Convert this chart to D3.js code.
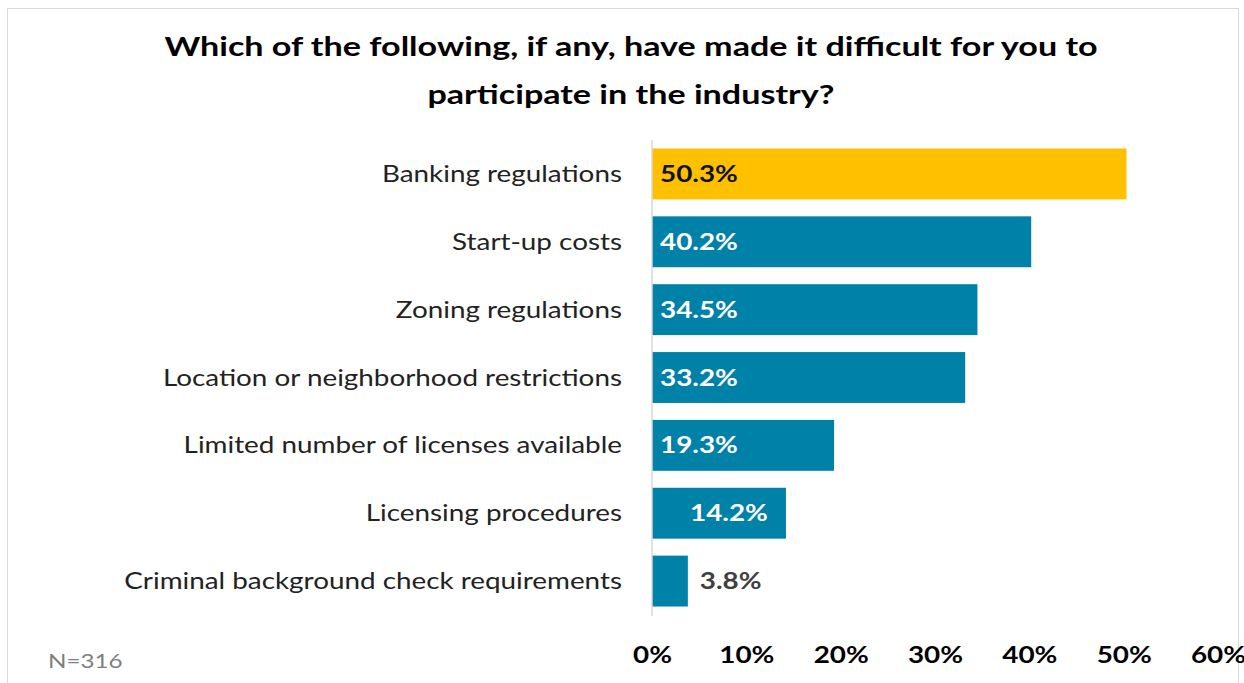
<!DOCTYPE html>
<html><head><meta charset="utf-8">
<script src="https://cdn.jsdelivr.net/npm/d3@7"></script>
<style>body{margin:0;background:#fff;} svg{display:block;}</style>
</head><body>
<svg id="c" width="1244" height="683"></svg>
<script>
const categories = ["Banking regulations","Start-up costs","Zoning regulations","Location or neighborhood restrictions","Limited number of licenses available","Licensing procedures","Criminal background check requirements"];
const values = [50.3, 40.2, 34.5, 33.2, 19.3, 14.2, 3.8];
const tickValues = [0, 10, 20, 30, 40, 50, 60];
const titleLines = ["Which of the following, if any, have made it difficult for you to", "participate in the industry?"];
const note = "N=316";

const FONT = "Lato, 'Open Sans', sans-serif";
const STRETCH = 1.21;
const TITLE_STRETCH = 1.24;
const svg = d3.select("#c");
svg.append("rect").attr("x",7.5).attr("y",8.5).attr("width",1231).attr("height",700)
  .attr("fill","#fff").attr("stroke","#d9d9d9");

const x = d3.scaleLinear().domain([0,60]).range([652,1218]);
const y = d3.scaleBand().domain(categories).range([140,615]).paddingInner(0.25).paddingOuter(0.125);

svg.selectAll("text.title").data(titleLines).join("text").attr("class","title")
  .attr("x",631).attr("y",(d,i)=>56+i*48).attr("text-anchor","middle")
  .attr("font-family",FONT).attr("font-weight",700).attr("font-size",27.5).attr("fill","#000").text(d=>d);

svg.selectAll("rect.bar").data(values).join("rect")
  .attr("x",x(0)).attr("y",(d,i)=>y(categories[i])).attr("width",d=>x(d)-x(0)).attr("height",y.bandwidth())
  .attr("fill",(d,i)=>i===0?"#FFC000":"#0081A7");

svg.append("line").attr("x1",652).attr("x2",652).attr("y1",140).attr("y2",616).attr("stroke","#d9d9d9").attr("stroke-width",1.5);

svg.selectAll("text.cat").data(categories).join("text").attr("class","t")
  .attr("x",622).attr("y",d=>y(d)+y.bandwidth()/2+8).attr("text-anchor","end")
  .attr("font-family",FONT).attr("font-size",23).attr("fill","#222").text(d=>d);

svg.selectAll("text.val").data(values).join("text").attr("class","t")
  .attr("x",(d,i)=> d<10 ? x(d)+12 : (i===5 ? x(0)+38 : x(0)+8))
  .attr("y",(d,i)=>y(categories[i])+y.bandwidth()/2+8)
  .attr("font-family",FONT).attr("font-weight",700).attr("font-size",23)
  .attr("fill",(d,i)=> i===0 ? "#111" : (d<10 ? "#404040" : "#fff"))
  .text(d=>d.toFixed(1)+"%");

const axis = d3.axisBottom(x).tickValues(tickValues).tickFormat(d=>d+"%").tickSize(0).tickPadding(0);
const ag = svg.append("g").attr("transform","translate(0,647)").call(axis);
ag.select(".domain").remove();
ag.selectAll("text").attr("class","t").attr("font-family",FONT).attr("font-weight",700).attr("font-size",23).attr("fill","#000");

svg.append("text").attr("class","t").attr("x",48).attr("y",668).attr("font-family",FONT).attr("font-size",20).attr("fill","#7f7f7f").text(note);

// widen glyphs horizontally to match the reference's wide lettering
function stretch(sel, k){
  sel.each(function(){
    const L = this.getComputedTextLength();
    d3.select(this).attr("textLength", L*k).attr("lengthAdjust","spacingAndGlyphs");
  });
}
stretch(svg.selectAll("text.t"), STRETCH);
stretch(svg.selectAll("text.title"), TITLE_STRETCH);
</script>
</body></html>
